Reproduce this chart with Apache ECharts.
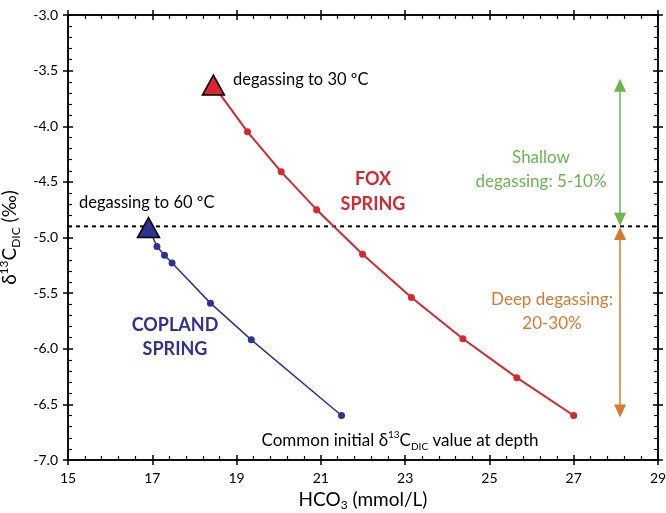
<!DOCTYPE html>
<html><head><meta charset="utf-8">
<script src="https://cdn.jsdelivr.net/npm/echarts@6/dist/echarts.min.js"></script>
<style>html,body{margin:0;padding:0;background:#fff}#c{width:666px;height:513px}</style>
</head><body><div id="c"></div>
<script>
const xTickLabels = [15, 17, 19, 21, 23, 25, 27, 29];
const yTickLabels = [-3.0, -3.5, -4.0, -4.5, -5.0, -5.5, -6.0, -6.5, -7.0];
const foxHCO3 = [18.45, 19.26, 20.06, 20.90, 21.99, 23.15, 24.37, 25.65, 27.00];
const foxD13C = [-3.63, -4.05, -4.41, -4.75, -5.15, -5.54, -5.91, -6.26, -6.60];
const coplandHCO3 = [16.91, 17.11, 17.29, 17.47, 18.38, 19.35, 21.49];
const coplandD13C = [-4.91, -5.08, -5.16, -5.23, -5.59, -5.92, -6.60];
const thresholdD13C = -4.9;
const arrowHCO3 = 28.1;
const shallowRange = [-3.632, -4.835];
const deepRange = [-4.965, -6.56];

const FONT = 'Lato';
const RED = '#D7282F', BLUE = '#2F3292', GREEN = '#6AB451', ORANGE = '#D9792F';

const xMin = xTickLabels[0], xMax = xTickLabels[xTickLabels.length - 1], xStep = xTickLabels[1] - xTickLabels[0];
const yMax = yTickLabels[0], yMin = yTickLabels[yTickLabels.length - 1], yStep = yTickLabels[0] - yTickLabels[1];

const richText = {
  n: { fontSize: 19, fontFamily: FONT, color: '#000', lineHeight: 24 },
  sup: { fontSize: 12, fontFamily: FONT, color: '#000', verticalAlign: 'top', lineHeight: 24 },
  sub: { fontSize: 12, fontFamily: FONT, color: '#000', verticalAlign: 'bottom', lineHeight: 19 }
};

function xAx(pos, inside, main) {
  return {
    type: 'value', position: pos, min: xMin, max: xMax, interval: xStep,
    axisLine: { show: true, onZero: false, lineStyle: { color: '#000', width: 1.5 } },
    axisTick: { show: true, inside: inside, length: 5, lineStyle: { color: '#000', width: 1.5 } },
    minorTick: { show: inside, splitNumber: 5, length: 4, lineStyle: { color: '#000', width: 1.2 } },
    splitLine: { show: false },
    axisLabel: { show: main, margin: 11, fontSize: 14, fontFamily: FONT, color: '#000' },
    name: main ? '{n|HCO}{sub|3}{n| (mmol/L)}' : '',
    nameLocation: 'middle', nameGap: 26,
    nameTextStyle: { rich: richText }
  };
}
function yAx(pos, inside, main) {
  return {
    type: 'value', position: pos, min: yMin, max: yMax, interval: yStep,
    axisLine: { show: true, onZero: false, lineStyle: { color: '#000', width: 1.5 } },
    axisTick: { show: true, inside: inside, length: 5, lineStyle: { color: '#000', width: 1.5 } },
    minorTick: { show: inside, splitNumber: 5, length: 4, lineStyle: { color: '#000', width: 1.2 } },
    splitLine: { show: false },
    axisLabel: { show: main, margin: 10, fontSize: 14, fontFamily: FONT, color: '#000',
      formatter: v => v.toFixed(1) },
    name: main ? '{n|δ}{sup|13}{n|C}{sub|DIC}{n| (‰)}' : '',
    nameLocation: 'middle', nameGap: 40, nameRotate: 90,
    nameTextStyle: { rich: richText }
  };
}

function springData(xs, ys) {
  return xs.map((x, i) => i === 0
    ? { value: [x, ys[i]], symbol: 'triangle', symbolSize: [22, 20],
        itemStyle: { borderColor: '#000', borderWidth: 1.5 } }
    : { value: [x, ys[i]] });
}

const option = {
  animation: false,
  grid: { left: 68, right: 8, top: 15, bottom: 53, outerBoundsMode: 'none', containLabel: false },
  xAxis: [xAx('bottom', false, true), xAx('bottom', true, false), xAx('top', true, false), xAx('top', false, false)],
  yAxis: [yAx('left', false, true), yAx('left', true, false), yAx('right', true, false), yAx('right', false, false)],
  series: [
    {
      type: 'line', xAxisIndex: 0, yAxisIndex: 0, silent: true,
      data: [[xMin, thresholdD13C], [xMax, thresholdD13C]],
      symbol: 'none', lineStyle: { color: '#000', width: 2, type: [4, 4] }, z: 1,
      markLine: {
        silent: true, symbol: ['triangle', 'triangle'], symbolSize: [12, 13],
        label: { show: false },
        data: [
          [{ coord: [arrowHCO3, shallowRange[0]], lineStyle: { color: GREEN, width: 1.5, type: 'solid' }, itemStyle: { color: GREEN } },
           { coord: [arrowHCO3, shallowRange[1]] }],
          [{ coord: [arrowHCO3, deepRange[0]], lineStyle: { color: ORANGE, width: 1.5, type: 'solid' }, itemStyle: { color: ORANGE } },
           { coord: [arrowHCO3, deepRange[1]] }]
        ]
      }
    },
    {
      type: 'line', name: 'Fox Spring', xAxisIndex: 0, yAxisIndex: 0,
      data: springData(foxHCO3, foxD13C),
      symbol: 'circle', symbolSize: 7, color: RED,
      lineStyle: { color: RED, width: 2 }, itemStyle: { color: RED }, z: 3
    },
    {
      type: 'line', name: 'Copland Spring', xAxisIndex: 0, yAxisIndex: 0,
      data: springData(coplandHCO3, coplandD13C),
      symbol: 'circle', symbolSize: 7, color: BLUE,
      lineStyle: { color: BLUE, width: 1.5 }, itemStyle: { color: BLUE }, z: 3
    }
  ],
  graphic: [
    { type: 'text', x: 233, y: 80, style: { text: 'degassing to 30 ºC', font: '16.5px ' + FONT, fill: '#000', align: 'left', verticalAlign: 'middle' } },
    { type: 'text', x: 79, y: 203, style: { text: 'degassing to 60 ºC', font: '16.5px ' + FONT, fill: '#000', align: 'left', verticalAlign: 'middle' } },
    { type: 'text', x: 373, y: 192, style: { text: 'FOX\nSPRING', font: 'bold 18px ' + FONT, fill: RED, align: 'center', verticalAlign: 'middle', lineHeight: 25 } },
    { type: 'text', x: 175, y: 337, style: { text: 'COPLAND\nSPRING', font: 'bold 18px ' + FONT, fill: BLUE, align: 'center', verticalAlign: 'middle', lineHeight: 24 } },
    { type: 'text', x: 541, y: 170, style: { text: 'Shallow\ndegassing: 5-10%', font: '17px ' + FONT, fill: GREEN, align: 'center', verticalAlign: 'middle', lineHeight: 24 } },
    { type: 'text', x: 552, y: 312, style: { text: 'Deep degassing:\n20-30%', font: '17px ' + FONT, fill: ORANGE, align: 'center', verticalAlign: 'middle', lineHeight: 24 } },
    { type: 'text', x: 400, y: 441, style: {
      text: '{a|Common initial δ}{s|13}{a|C}{b|DIC}{a| value at depth}', align: 'center', verticalAlign: 'middle',
      rich: {
        a: { fontSize: 17, fontFamily: FONT, fill: '#000', lineHeight: 22 },
        s: { fontSize: 10, fontFamily: FONT, fill: '#000', verticalAlign: 'top', lineHeight: 22 },
        b: { fontSize: 10, fontFamily: FONT, fill: '#000', verticalAlign: 'bottom', lineHeight: 18 }
      } } }
  ]
};

const chart = echarts.init(document.getElementById('c'), null, { renderer: 'canvas' });
chart.setOption(option);
</script>
</body></html>
